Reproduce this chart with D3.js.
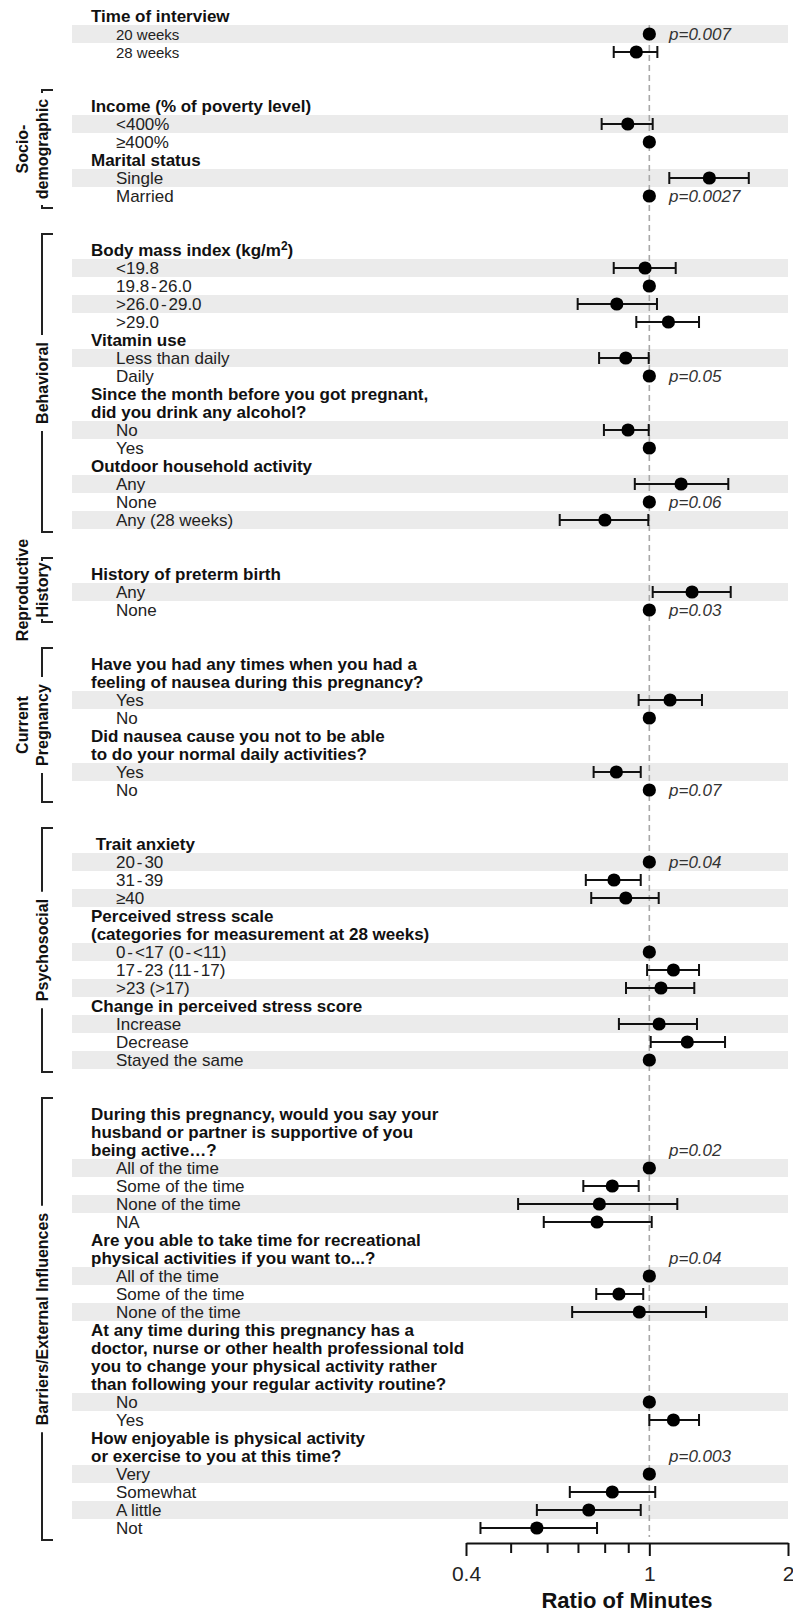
<!DOCTYPE html>
<html>
<head>
<meta charset="utf-8">
<script src="https://cdn.jsdelivr.net/npm/d3@7"></script>
<style>
  html, body { margin: 0; padding: 0; background: #fff; }
  svg { display: block; font-family: "Liberation Sans", Arial, Helvetica, sans-serif; }
</style>
</head>
<body>
<svg id="chart" width="793" height="1612"></svg>
<script>
// Rows from top to bottom. "# " marks a question heading, "" is an empty spacer row,
// anything else is a response category with its own estimate.
const rowLabels = [
  "# Time of interview", "20 weeks", "28 weeks", "", "",
  "# Income (% of poverty level)", "<400%", "≥400%",
  "# Marital status", "Single", "Married", "", "",
  "# Body mass index (kg/m^2)", "<19.8", "19.8-26.0", ">26.0-29.0", ">29.0",
  "# Vitamin use", "Less than daily", "Daily",
  "# Since the month before you got pregnant,", "# did you drink any alcohol?", "No", "Yes",
  "# Outdoor household activity", "Any", "None", "Any (28 weeks)", "", "",
  "# History of preterm birth", "Any", "None", "", "",
  "# Have you had any times when you had a", "# feeling of nausea during this pregnancy?", "Yes", "No",
  "# Did nausea cause you not to be able", "# to do your normal daily activities?", "Yes", "No", "", "",
  "# \u00a0Trait anxiety", "20-30", "31-39", "≥40",
  "# Perceived stress scale", "# (categories for measurement at 28 weeks)",
  "0-<17 (0-<11)", "17-23 (11-17)", ">23 (>17)",
  "# Change in perceived stress score", "Increase", "Decrease", "Stayed the same", "", "",
  "# During this pregnancy, would you say your", "# husband or partner is supportive of you", "# being active…?",
  "All of the time", "Some of the time", "None of the time", "NA",
  "# Are you able to take time for recreational", "# physical activities if you want to...?",
  "All of the time", "Some of the time", "None of the time",
  "# At any time during this pregnancy has a", "# doctor, nurse or other health professional told",
  "# you to change your physical activity rather", "# than following your regular activity routine?",
  "No", "Yes",
  "# How enjoyable is physical activity", "# or exercise to you at this time?",
  "Very", "Somewhat", "A little", "Not"
];

// Ratio of minutes for each response category (reference categories = 1, no interval).
const estimate = [
  1, 0.937,            // time of interview
  0.898, 1,            // income
  1.35, 1,             // marital status
  0.979, 1, 0.85, 1.10, // BMI
  0.889, 1,            // vitamin use
  0.899, 1,            // alcohol
  1.172, 1, 0.801,     // outdoor household activity
  1.238, 1,            // preterm birth
  1.109, 1,            // nausea
  0.848, 1,            // nausea limits activities
  1, 0.838, 0.889,     // trait anxiety
  1, 1.128, 1.06,      // perceived stress
  1.05, 1.209, 1,      // change in stress
  1, 0.831, 0.779, 0.77, // partner support
  1, 0.859, 0.951,     // time for recreation
  1, 1.128,            // advised to change activity
  1, 0.831, 0.739, 0.57 // enjoyment
];
const lower = [
  null, 0.837,
  0.788, null,
  1.105, null,
  0.837, null, 0.699, 0.937,
  0.778, null,
  0.797, null,
  0.93, null, 0.639,
  1.017, null,
  0.948, null,
  0.757, null,
  null, 0.728, 0.748,
  null, 0.989, 0.89,
  0.859, 1.007, null,
  null, 0.719, 0.519, 0.59,
  null, 0.767, 0.68,
  null, 1.0,
  null, 0.672, 0.57, 0.43
];
const upper = [
  null, 1.041,
  1.017, null,
  1.644, null,
  1.141, null, 1.039, 1.282,
  0.997, null,
  0.997, null,
  1.484, null, 0.995,
  1.502, null,
  1.301, null,
  0.958, null,
  null, 0.958, 1.048,
  null, 1.282, 1.252,
  1.269, 1.46, null,
  null, 0.948, 1.15, 1.012,
  null, 0.97, 1.328,
  null, 1.282,
  null, 1.03, 0.958, 0.77
];

// p-values and the row each one sits on
const pValueText = ["p=0.007", "p=0.0027", "p=0.05", "p=0.06", "p=0.03", "p=0.07", "p=0.04", "p=0.02", "p=0.04", "p=0.003"];
const pValueRow  = [1, 10, 20, 27, 33, 43, 47, 63, 69, 80];

// Domain groupings shown as brackets at the left
const groupLabels = [["Socio-", "demographic"], ["Behavioral"], ["Reproductive", "History"], ["Current", "Pregnancy"], ["Psychosocial"], ["Barriers/External Influences"]];
const groupFirstRow = [5, 13, 31, 36, 46, 61];
const groupLastRow  = [10, 28, 33, 43, 58, 84];

// Axis ticks
const tickValues = [0.4, 0.5, 0.6, 0.7, 0.8, 0.9, 1, 2];
const tickLabels = [0.4, 1, 2];
const axisTitle = "Ratio of Minutes";

// ---------------------------------------------------------------
const svg = d3.select("#chart");
const W = 793;
svg.append("rect").attr("width", W).attr("height", 1612).attr("fill", "#fff");

const y = d3.scalePoint().domain(d3.range(rowLabels.length)).range([16, 16 + 18 * (rowLabels.length - 1)]);
const x = d3.scaleLog().domain([0.4, 2]).range([466, 788]);

// classify rows and assign estimates to the category rows in order
const rows = rowLabels.map((s, i) => ({
  i,
  heading: s.startsWith("# "),
  blank: s === "",
  text: s.startsWith("# ") ? s.slice(2) : s
}));
let itemIdx = 0, pos = 0;
rows.forEach(r => {
  if (r.heading || r.blank) { pos = 0; return; }
  r.item = itemIdx++;
  r.band = pos % 2 === 0;
  pos++;
});
const items = rows.filter(r => r.item !== undefined);
items.forEach(r => {
  r.est = estimate[r.item];
  r.lo = lower[r.item];
  r.hi = upper[r.item];
});

// shaded stripes
svg.append("g").selectAll("rect")
  .data(items.filter(r => r.band))
  .join("rect")
  .attr("x", 72).attr("width", 788 - 72)
  .attr("y", r => y(r.i) - 9).attr("height", 18)
  .attr("fill", "#ebebeb");

// reference line at ratio 1
svg.append("line")
  .attr("x1", x(1)).attr("x2", x(1))
  .attr("y1", y(1) - 9).attr("y2", y(rowLabels.length - 1) + 9)
  .attr("stroke", "#a8a8a8").attr("stroke-width", 1.6)
  .attr("stroke-dasharray", "6,4");

// confidence intervals
const ci = svg.append("g").attr("stroke", "#111").attr("stroke-width", 2).attr("fill", "none");
const withCI = items.filter(r => r.lo != null);
ci.selectAll("path.bar")
  .data(withCI)
  .join("path")
  .attr("class", "bar")
  .attr("d", r => {
    const yy = y(r.i), x0 = x(r.lo), x1 = x(r.hi);
    return `M${x0},${yy}H${x1}M${x0},${yy - 6}V${yy + 6}M${x1},${yy - 6}V${yy + 6}`;
  });

// point estimates
svg.append("g").selectAll("circle")
  .data(items)
  .join("circle")
  .attr("cx", r => x(r.est)).attr("cy", r => y(r.i))
  .attr("r", 6.6).attr("fill", "#000");

// row labels
const labels = svg.append("g");
rows.filter(r => r.heading).forEach(r => {
  const t = labels.append("text")
    .attr("x", 91).attr("y", y(r.i) + 6)
    .attr("font-size", 17).attr("font-weight", "bold").attr("fill", "#111");
  if (r.text.includes("^")) {
    const [a, b] = r.text.split("^");
    t.append("tspan").text(a);
    t.append("tspan").attr("font-size", 12).attr("dy", -6).text(b[0]);
    t.append("tspan").attr("dy", 6).text(b.slice(1));
  } else {
    t.text(r.text);
  }
});
items.forEach(r => {
  const small = r.i < 3;
  const t = labels.append("text")
    .attr("x", 116).attr("y", y(r.i) + 6)
    .attr("font-size", small ? 15 : 17).attr("fill", "#222");
  const parts = r.text.split("-");
  parts.forEach((p, k) => {
    if (k > 0) t.append("tspan").attr("dx", 1.9).text("-");
    t.append("tspan").attr("dx", k > 0 ? 1.9 : null).text(p);
  });
});

// p-values
svg.append("g").selectAll("text")
  .data(pValueText)
  .join("text")
  .attr("x", 669).attr("y", (d, k) => y(pValueRow[k]) + 6)
  .attr("font-size", 17).attr("font-style", "italic").attr("fill", "#333")
  .text(d => d);

// group brackets with rotated labels
const gb = svg.append("g");
groupLabels.forEach((lab, g) => {
  const top = y(groupFirstRow[g]) - 16;
  const bot = y(groupLastRow[g]) + 12;
  const mid = (top + bot) / 2;
  const bx = 42, tickX = 53;
  const inner = lab[lab.length - 1];
  const t = gb.append("text")
    .attr("transform", `translate(${bx},${mid}) rotate(-90)`)
    .attr("text-anchor", "middle").attr("dy", "0.35em")
    .attr("font-size", 16).attr("font-weight", "bold").attr("fill", "#111")
    .text(inner);
  const half = t.node().getComputedTextLength() / 2 + 7;
  const a = Math.max(mid - half, top + 3);
  const b = Math.min(mid + half, bot - 3);
  gb.append("path")
    .attr("d", `M${tickX},${top}H${bx}V${a}M${bx},${b}V${bot}H${tickX}`)
    .attr("fill", "none").attr("stroke", "#222").attr("stroke-width", 2);
  if (lab.length > 1) {
    gb.append("text")
      .attr("transform", `translate(22,${mid}) rotate(-90)`)
      .attr("text-anchor", "middle").attr("dy", "0.35em")
      .attr("font-size", 16).attr("font-weight", "bold").attr("fill", "#111")
      .text(lab[0]);
  }
});

// x axis (log scale)
const labelled = new Set(tickLabels);
const axis = d3.axisBottom(x)
  .tickValues(tickValues)
  .tickFormat(d => labelled.has(d) ? d3.format("~g")(d) : "")
  .tickSize(13).tickSizeOuter(0).tickPadding(10.5);
const ax = svg.append("g").attr("transform", "translate(0,1543)").call(axis)
  .attr("font-family", null).attr("font-size", null);
ax.select(".domain").attr("stroke", "#111").attr("stroke-width", 2);
ax.selectAll(".tick line").attr("stroke", "#111").attr("stroke-width", 2)
  .attr("y2", d => labelled.has(d) ? 13 : 10);
ax.selectAll(".tick text").attr("font-size", 21).attr("fill", "#222");

svg.append("text")
  .attr("x", (x.range()[0] + x.range()[1]) / 2).attr("y", 1608)
  .attr("text-anchor", "middle")
  .attr("font-size", 22).attr("font-weight", "bold").attr("fill", "#111")
  .text(axisTitle);
</script>
</body>
</html>
